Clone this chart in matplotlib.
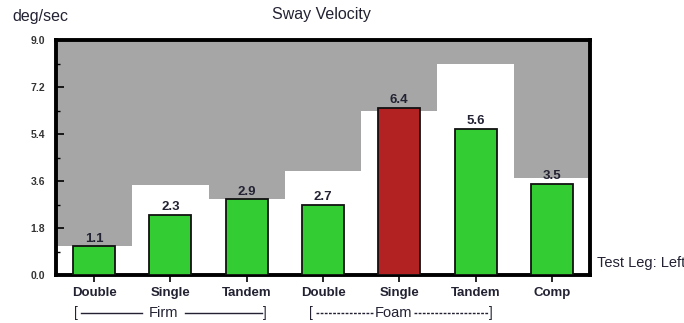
import matplotlib
matplotlib.use("Agg")
import matplotlib.pyplot as plt
from matplotlib.lines import Line2D
from matplotlib.ticker import MultipleLocator
import numpy as np

# Test conditions and measured sway velocity (deg/sec)
conditions = ["Double", "Single", "Tandem", "Double", "Single", "Tandem", "Comp"]
values = [1.1, 2.3, 2.9, 2.7, 6.4, 5.6, 3.5]
# Normative limit per condition; the area above it is shaded
limits = [1.1, 3.45, 2.9, 4.0, 6.3, 8.1, 3.7]
# Condition flagged as outside the limit
flagged = [False, False, False, False, True, False, False]

yticks = [0.0, 1.8, 3.6, 5.4, 7.2, 9.0]
ymax = 9.0

GREEN = "#33CC33"
RED = "#B22222"
GREY = "#A6A6A6"
INK = "#222233"

plt.rcParams["font.family"] = ["Liberation Sans Narrow", "Liberation Sans", "DejaVu Sans"]

fig = plt.figure(figsize=(6.84, 3.23), dpi=100)
ax = fig.add_axes([56 / 684, 1 - 275 / 323, 534 / 684, 235 / 323])

x = np.arange(len(conditions))

# Shaded region above each limit
ax.bar(x, [ymax - l for l in limits], bottom=limits, width=1.0,
       color=GREY, linewidth=0, zorder=1)

colors = [RED if f else GREEN for f in flagged]
ax.bar(x, values, width=0.55, color=colors, edgecolor="#111111",
       linewidth=1.3, zorder=3)

for xi, v in zip(x, values):
    ax.text(xi, v + 0.06, f"{v:.1f}", ha="center", va="bottom",
            fontsize=9.5, fontweight="bold", color=INK, zorder=4)

ax.set_xlim(-0.5, len(conditions) - 0.5)
ax.set_ylim(0, ymax)
ax.set_yticks(yticks)
ax.set_yticklabels([f"{t:.1f}" for t in yticks])
ax.yaxis.set_minor_locator(MultipleLocator(0.9))
ax.set_xticks(x)
ax.set_xticklabels(conditions)

for s in ax.spines.values():
    s.set_linewidth(2.8)
    s.set_color("black")

ax.tick_params(axis="y", direction="in", length=6, width=1.2, pad=8,
               labelsize=7.5, labelcolor="#333333")
ax.tick_params(axis="y", which="minor", direction="in", length=3, width=1.0)
ax.tick_params(axis="x", direction="out", length=5, width=1.2, pad=10,
               labelsize=9.5, labelcolor=INK)
for lab in ax.get_xticklabels():
    lab.set_fontweight("bold")
    lab.set_verticalalignment("baseline")
for lab in ax.get_yticklabels():
    lab.set_fontweight("bold")

fig.text(12 / 684, 1 - 17 / 323, "deg/sec", fontsize=11.5, ha="left",
         va="center", color=INK)
fig.text(321 / 684, 1 - 15 / 323, "Sway Velocity", fontsize=11.5,
         ha="center", va="center", color=INK)
fig.text(597 / 684, 1 - 263 / 323, "Test Leg: Left", fontsize=10.5,
         ha="left", va="center", color=INK)

# Surface group brackets under the axis
gy = 1 - 313 / 323


def bracket(x0, x1, label, lx0, lx1, style):
    fig.text(x0 / 684, gy, "[", fontsize=10, ha="center", va="center",
             color=INK)
    fig.text(x1 / 684, gy, "]", fontsize=10, ha="center", va="center",
             color=INK)
    fig.text((lx0 + lx1) / 2 / 684, gy, label, fontsize=10.5, ha="center",
             va="center", color=INK)
    fig.add_artist(Line2D([(x0 + 5) / 684, (lx0 - 3) / 684], [gy, gy],
                          color=INK, lw=1.0, linestyle=style))
    fig.add_artist(Line2D([(lx1 + 3) / 684, (x1 - 3) / 684], [gy, gy],
                          color=INK, lw=1.0, linestyle=style))


bracket(76, 265, "Firm", 145, 182, "-")
bracket(311, 491, "Foam", 376, 411, (0, (2, 1)))

fig.savefig("out.png", dpi=100)
